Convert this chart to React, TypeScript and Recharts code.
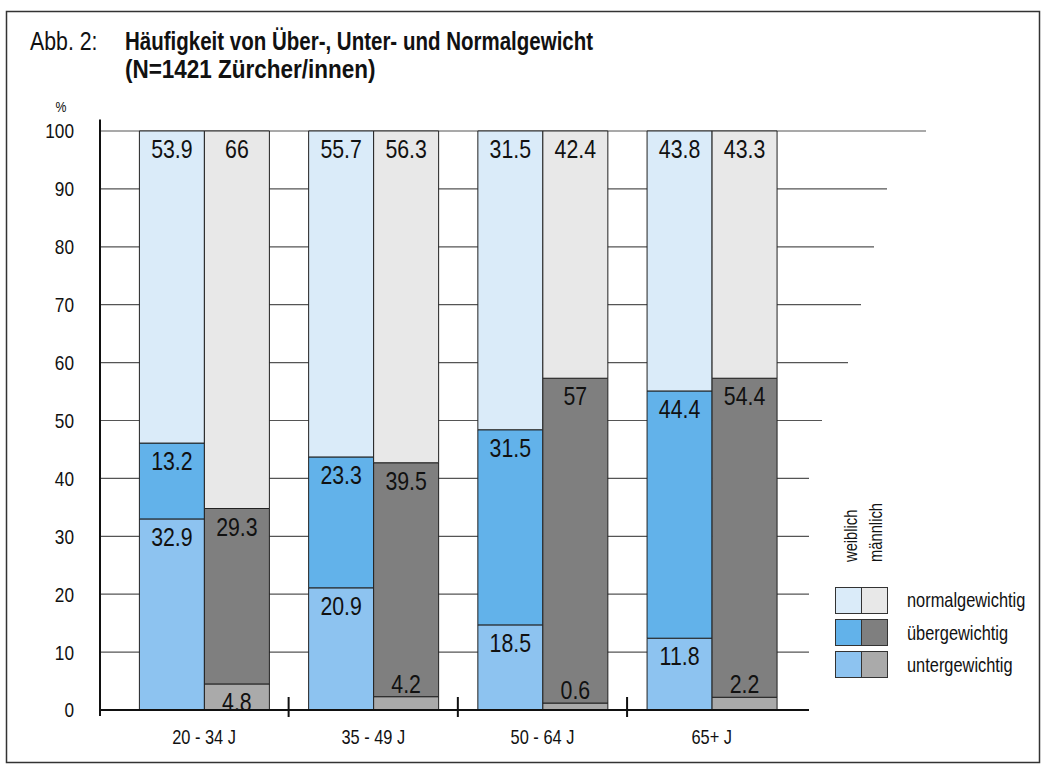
import React from "react";
import {
  BarChart,
  Bar,
  XAxis,
  YAxis,
  CartesianGrid,
  LabelList,
  ReferenceLine,
} from "recharts";

// Altersgruppen
const CATEGORIES = ["20 - 34 J", "35 - 49 J", "50 - 64 J", "65+ J"];

// Balkenhöhen in %
const W_UNDER = [33.0, 21.1, 14.7, 12.4];
const W_OVER = [13.1, 22.6, 33.7, 42.7];
const W_NORMAL = [53.9, 56.3, 51.6, 44.9];
const M_UNDER = [4.5, 2.3, 1.2, 2.2];
const M_OVER = [30.3, 40.4, 56.1, 55.1];
const M_NORMAL = [65.2, 57.3, 42.7, 42.7];

// Beschriftungen wie gedruckt
const W_UNDER_LABELS = ["32.9", "20.9", "18.5", "11.8"];
const W_OVER_LABELS = ["13.2", "23.3", "31.5", "44.4"];
const W_NORMAL_LABELS = ["53.9", "55.7", "31.5", "43.8"];
const M_UNDER_LABELS = ["4.8", "4.2", "0.6", "2.2"];
const M_OVER_LABELS = ["29.3", "39.5", "57", "54.4"];
const M_NORMAL_LABELS = ["66", "56.3", "42.4", "43.3"];

const Y_TICKS = [0, 10, 20, 30, 40, 50, 60, 70, 80, 90, 100];

const LEGEND_ROWS = ["normalgewichtig", "übergewichtig", "untergewichtig"];

const COLORS = {
  wNormal: "#daebf9",
  wOver: "#62b2ea",
  wUnder: "#8dc3f0",
  mNormal: "#e8e8e8",
  mOver: "#7f7f7f",
  mUnder: "#aaaaaa",
};

const FONT = '"Liberation Sans", Arial, sans-serif';

const W = 1046;
const H = 775;
const PLOT_TOP = 119.4;
const PLOT_BOTTOM = 710;
const Y_MAX = 102;
const PX_PER_UNIT = (PLOT_BOTTOM - PLOT_TOP) / Y_MAX;

// how far each gridline runs past the plot on the right (staircase)
const GRID_EXTEND: Record<number, number> = {
  100: 117,
  90: 78,
  80: 65,
  70: 52,
  60: 39,
  50: 13,
};

const data = CATEGORIES.map((cat, i) => ({
  cat,
  wUnder: W_UNDER[i],
  wOver: W_OVER[i],
  wNormal: W_NORMAL[i],
  mUnder: M_UNDER[i],
  mOver: M_OVER[i],
  mNormal: M_NORMAL[i],
  wUnderLabel: W_UNDER_LABELS[i],
  wOverLabel: W_OVER_LABELS[i],
  wNormalLabel: W_NORMAL_LABELS[i],
  mUnderLabel: M_UNDER_LABELS[i],
  mOverLabel: M_OVER_LABELS[i],
  mNormalLabel: M_NORMAL_LABELS[i],
}));

// condensed look: Liberation Sans squeezed horizontally
function NText(props: any) {
  const {
    x,
    y,
    size,
    anchor = "start",
    bold = false,
    sx = 0.82,
    rotate = 0,
    dy,
    children,
  } = props;
  return (
    <text
      transform={`translate(${x} ${y}) rotate(${rotate}) scale(${sx} 1)`}
      x={0}
      y={0}
      dy={dy}
      textAnchor={anchor}
      fontFamily={FONT}
      fontSize={size}
      fontWeight={bold ? "bold" : "normal"}
      fill="#111"
    >
      {children}
    </text>
  );
}

function renderGridLine(p: any) {
  const v = Math.round((PLOT_BOTTOM - p.y1) / PX_PER_UNIT);
  const key = p.key ?? `g-${p.index}`;
  if (!Y_TICKS.includes(v)) return <g key={key} />;
  const ext = GRID_EXTEND[v] ?? 0;
  return (
    <line
      key={key}
      x1={p.x1}
      y1={p.y1}
      x2={p.x2 + ext}
      y2={p.y2}
      stroke="#555"
      strokeWidth={1.2}
    />
  );
}

function SegmentLabel(props: any) {
  const { x, y, width, height, value } = props;
  if (value == null) return null;
  // tiny segments get their number just above the segment
  const baseline = Math.abs(height) < 20 ? y - 4 : y + 27;
  return (
    <NText x={x + width / 2} y={baseline} size={26} anchor="middle">
      {value}
    </NText>
  );
}

function BoundaryTick(props: any) {
  const bottom = Math.max(props.y1, props.y2);
  return (
    <line
      x1={props.x1}
      x2={props.x1}
      y1={bottom - 13}
      y2={bottom + 7}
      stroke="#111"
      strokeWidth={2}
    />
  );
}

function YTick(props: any) {
  const { x, y, payload } = props;
  return (
    <NText x={x} y={y} dy="0.355em" size={21} anchor="end">
      {payload.value}
    </NText>
  );
}

function XTick(props: any) {
  const { x, y, payload } = props;
  return (
    <NText x={x} y={y} dy="0.71em" size={20} anchor="middle">
      {payload.value}
    </NText>
  );
}

function Overlay() {
  const sq = [
    [COLORS.wNormal, COLORS.mNormal],
    [COLORS.wOver, COLORS.mOver],
    [COLORS.wUnder, COLORS.mUnder],
  ];
  const rowY = [587, 619, 651];
  const textY = [607, 640, 672];
  return (
    <svg
      width={W}
      height={H}
      style={{ position: "absolute", left: 0, top: 0, pointerEvents: "none" }}
    >
      <rect x={6.5} y={11.5} width={1033} height={751} fill="none" stroke="#333" strokeWidth={1.5} />
      <NText x={30} y={50} size={26}>
        Abb. 2:
      </NText>
      <NText x={125} y={50} size={25} bold>
        Häufigkeit von Über-, Unter- und Normalgewicht
      </NText>
      <NText x={125} y={78} size={25} bold sx={0.9}>
        (N=1421 Zürcher/innen)
      </NText>
      <NText x={61} y={112} size={15} anchor="middle">
        %
      </NText>
      <line x1={100} x2={100} y1={708} y2={716} stroke="#111" strokeWidth={2} />

      <NText x={857} y={562} size={18} rotate={-90}>
        weiblich
      </NText>
      <NText x={882} y={562} size={18} rotate={-90}>
        männlich
      </NText>
      {LEGEND_ROWS.map((label, i) => (
        <g key={label}>
          <rect x={835.5} y={rowY[i] + 0.5} width={26} height={26} fill={sq[i][0]} stroke="#333" />
          <rect x={861.5} y={rowY[i] + 0.5} width={26} height={26} fill={sq[i][1]} stroke="#333" />
          <NText x={907} y={textY[i]} size={20}>
            {label}
          </NText>
        </g>
      ))}
    </svg>
  );
}

export default function App() {
  return (
    <div
      style={{
        position: "absolute",
        left: 0,
        top: 0,
        width: W,
        height: H,
        background: "#fff",
      }}
    >
      <BarChart
        width={W}
        height={H}
        data={data}
        margin={{ top: PLOT_TOP, right: 237, bottom: 0, left: 0 }}
        barSize={65}
        barGap={0}
      >
        <CartesianGrid vertical={false} horizontal={renderGridLine} />
        <XAxis
          dataKey="cat"
          height={H - PLOT_BOTTOM}
          padding={{ left: 19.4, right: 12.7 }}
          tickLine={false}
          tickMargin={14}
          axisLine={{ stroke: "#111", strokeWidth: 2 }}
          tick={<XTick />}
          interval={0}
        />
        <YAxis
          width={100}
          domain={[0, Y_MAX]}
          ticks={Y_TICKS}
          interval={0}
          tickLine={false}
          tickMargin={20}
          axisLine={{ stroke: "#111", strokeWidth: 2 }}
          tick={<YTick />}
        />

        <Bar dataKey="wUnder" stackId="w" fill={COLORS.wUnder} stroke="#222" strokeWidth={1} isAnimationActive={false}>
          <LabelList dataKey="wUnderLabel" content={<SegmentLabel />} />
        </Bar>
        <Bar dataKey="wOver" stackId="w" fill={COLORS.wOver} stroke="#222" strokeWidth={1} isAnimationActive={false}>
          <LabelList dataKey="wOverLabel" content={<SegmentLabel />} />
        </Bar>
        <Bar dataKey="wNormal" stackId="w" fill={COLORS.wNormal} stroke="#222" strokeWidth={1} isAnimationActive={false}>
          <LabelList dataKey="wNormalLabel" content={<SegmentLabel />} />
        </Bar>
        <Bar dataKey="mUnder" stackId="m" fill={COLORS.mUnder} stroke="#222" strokeWidth={1} isAnimationActive={false}>
          <LabelList dataKey="mUnderLabel" content={<SegmentLabel />} />
        </Bar>
        <Bar dataKey="mOver" stackId="m" fill={COLORS.mOver} stroke="#222" strokeWidth={1} isAnimationActive={false}>
          <LabelList dataKey="mOverLabel" content={<SegmentLabel />} />
        </Bar>
        <Bar dataKey="mNormal" stackId="m" fill={COLORS.mNormal} stroke="#222" strokeWidth={1} isAnimationActive={false}>
          <LabelList dataKey="mNormalLabel" content={<SegmentLabel />} />
        </Bar>

        {CATEGORIES.slice(1).map((c) => (
          <ReferenceLine key={c} x={c} position="start" ifOverflow="visible" shape={BoundaryTick} />
        ))}
      </BarChart>
      <Overlay />
    </div>
  );
}
